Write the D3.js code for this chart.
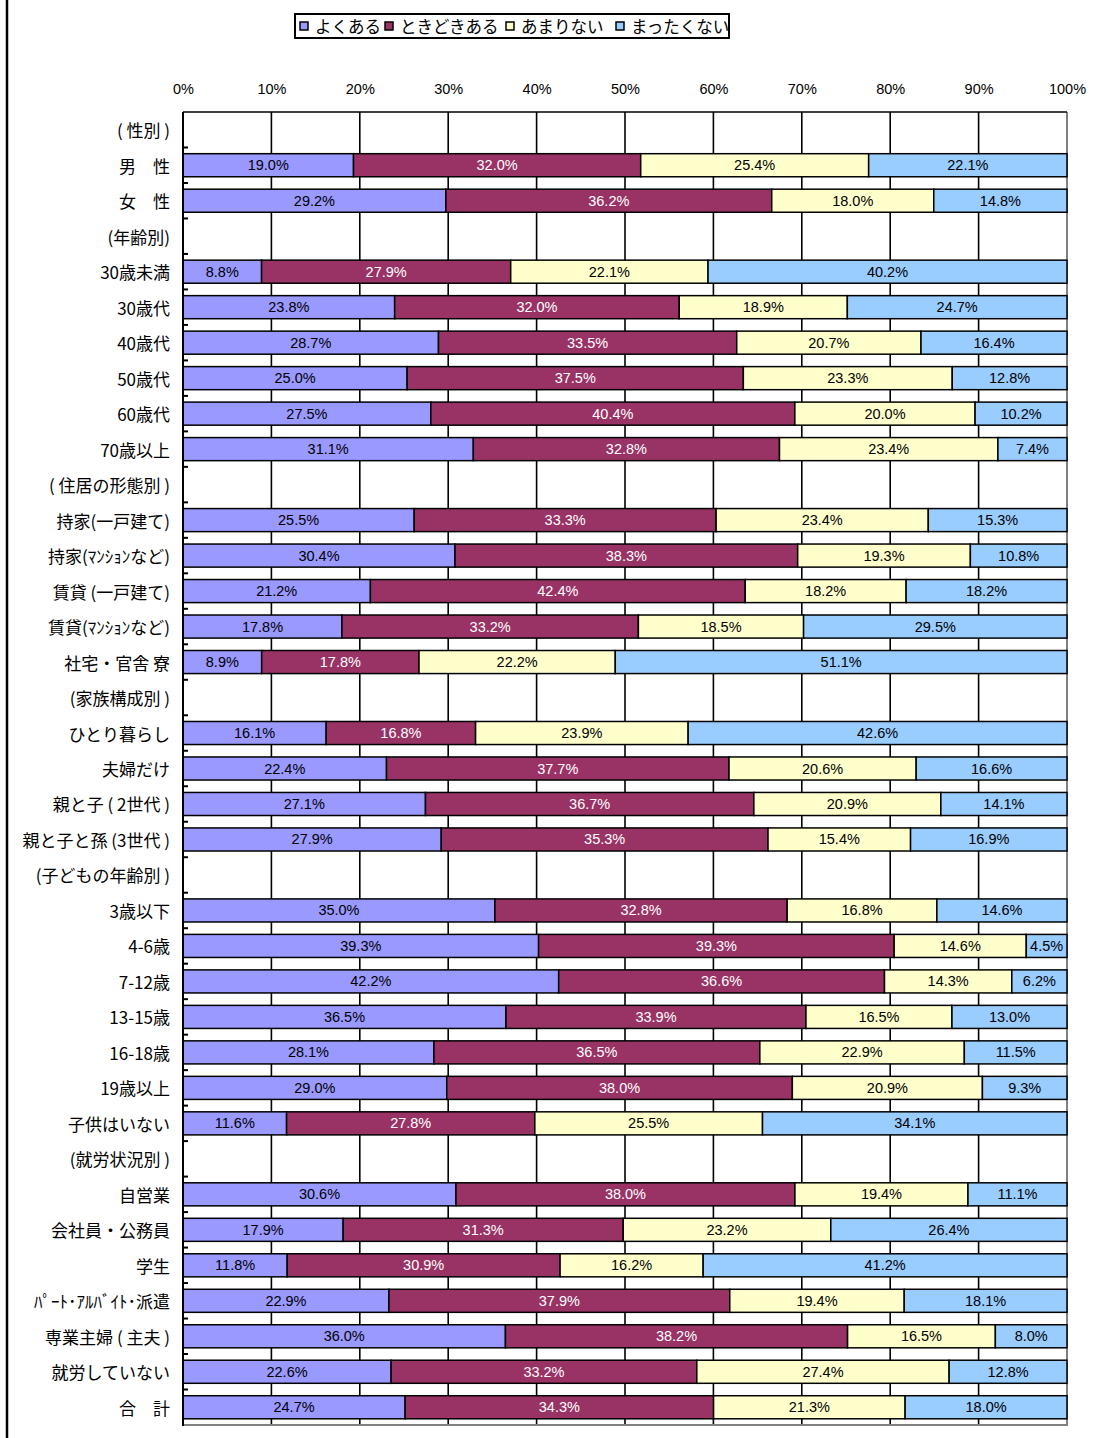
<!DOCTYPE html>
<html>
<head>
<meta charset="utf-8">
<script src="https://cdn.jsdelivr.net/npm/d3@7"></script>
<style>
  html, body { margin: 0; padding: 0; background: #fff; }
  svg { display: block; }
</style>
</head>
<body>
<svg id="chart" width="1111" height="1438"></svg>
<script>
// Row labels (group headers have no data)
const categories = [
  "( 性別 )", "男　性", "女　性",
  "(年齢別)", "30歳未満", "30歳代", "40歳代", "50歳代", "60歳代", "70歳以上",
  "( 住居の形態別 )", "持家(一戸建て)", "持家(ﾏﾝｼｮﾝなど)", "賃貸 (一戸建て)", "賃貸(ﾏﾝｼｮﾝなど)", "社宅・官舎 寮",
  "(家族構成別 )", "ひとり暮らし", "夫婦だけ", "親と子 ( 2世代 )", "親と子と孫 (3世代 )",
  "(子どもの年齢別 )", "3歳以下", "4-6歳", "7-12歳", "13-15歳", "16-18歳", "19歳以上", "子供はいない",
  "(就労状況別 )", "自営業", "会社員・公務員", "学生", "ﾊﾟｰﾄ･ｱﾙﾊﾞｲﾄ･派遣", "専業主婦 ( 主夫 )", "就労していない",
  "合　計"
];

const seriesNames = ["よくある", "ときどきある", "あまりない", "まったくない"];

// Percentages per row; null for header rows
const often = [
  null, 19.0, 29.2,
  null, 8.8, 23.8, 28.7, 25.0, 27.5, 31.1,
  null, 25.5, 30.4, 21.2, 17.8, 8.9,
  null, 16.1, 22.4, 27.1, 27.9,
  null, 35.0, 39.3, 42.2, 36.5, 28.1, 29.0, 11.6,
  null, 30.6, 17.9, 11.8, 22.9, 36.0, 22.6,
  24.7
];
const sometimes = [
  null, 32.0, 36.2,
  null, 27.9, 32.0, 33.5, 37.5, 40.4, 32.8,
  null, 33.3, 38.3, 42.4, 33.2, 17.8,
  null, 16.8, 37.7, 36.7, 35.3,
  null, 32.8, 39.3, 36.6, 33.9, 36.5, 38.0, 27.8,
  null, 38.0, 31.3, 30.9, 37.9, 38.2, 33.2,
  34.3
];
const rarely = [
  null, 25.4, 18.0,
  null, 22.1, 18.9, 20.7, 23.3, 20.0, 23.4,
  null, 23.4, 19.3, 18.2, 18.5, 22.2,
  null, 23.9, 20.6, 20.9, 15.4,
  null, 16.8, 14.6, 14.3, 16.5, 22.9, 20.9, 25.5,
  null, 19.4, 23.2, 16.2, 19.4, 16.5, 27.4,
  21.3
];
const never = [
  null, 22.1, 14.8,
  null, 40.2, 24.7, 16.4, 12.8, 10.2, 7.4,
  null, 15.3, 10.8, 18.2, 29.5, 51.1,
  null, 42.6, 16.6, 14.1, 16.9,
  null, 14.6, 4.5, 6.2, 13.0, 11.5, 9.3, 34.1,
  null, 11.1, 26.4, 41.2, 18.1, 8.0, 12.8,
  18.0
];

const tickValues = [0, 0.1, 0.2, 0.3, 0.4, 0.5, 0.6, 0.7, 0.8, 0.9, 1.0];

const colors = ["#9999FF", "#993366", "#FFFFCC", "#99CCFF"];
const labelColors = ["#000", "#fff", "#000", "#000"];

const keys = ["often", "sometimes", "rarely", "never"];
const rows = categories.map((c, i) => ({
  cat: c,
  often: often[i], sometimes: sometimes[i], rarely: rarely[i], never: never[i]
}));
const dataRows = rows.filter(r => r.often !== null);

const svg = d3.select("#chart");
const W = 1111, H = 1438;
const plot = { left: 183, right: 1067, top: 112, bottom: 1425 };

const x = d3.scaleLinear().domain([0, 1]).range([plot.left, plot.right]);
const rowBand = d3.scaleBand().domain(categories).range([plot.top, plot.bottom]).padding(0);
const barBand = d3.scaleBand().domain(categories).range([plot.top, plot.bottom])
  .paddingInner(0.35).paddingOuter(0.175);

// outer frame line on the left
svg.append("line")
  .attr("x1", 7).attr("x2", 7).attr("y1", 0).attr("y2", H)
  .attr("stroke", "#000").attr("stroke-width", 2.5);

// vertical gridlines
svg.append("g").selectAll("line")
  .data(tickValues.slice(1, -1))
  .join("line")
  .attr("x1", d => x(d)).attr("x2", d => x(d))
  .attr("y1", plot.top).attr("y2", plot.bottom)
  .attr("stroke", "#000").attr("stroke-width", 1.6);

// plot area border: grey right/bottom, black top
svg.append("line")
  .attr("x1", x(1)).attr("x2", x(1)).attr("y1", plot.top).attr("y2", plot.bottom + 1)
  .attr("stroke", "#808080").attr("stroke-width", 2);
svg.append("line")
  .attr("x1", plot.left).attr("x2", x(1) + 1).attr("y1", plot.bottom).attr("y2", plot.bottom)
  .attr("stroke", "#808080").attr("stroke-width", 2);
svg.append("line")
  .attr("x1", plot.left).attr("x2", x(1)).attr("y1", plot.top).attr("y2", plot.top)
  .attr("stroke", "#000").attr("stroke-width", 1.6);

// stacked, normalised bars
const stack = d3.stack().keys(keys).offset(d3.stackOffsetExpand);
const stacked = stack(dataRows);

const layers = svg.append("g").selectAll("g")
  .data(stacked)
  .join("g")
  .attr("fill", (d, i) => colors[i]);

layers.selectAll("rect")
  .data(d => d)
  .join("rect")
  .attr("x", d => x(d[0]))
  .attr("y", d => barBand(d.data.cat))
  .attr("width", d => x(d[1]) - x(d[0]))
  .attr("height", barBand.bandwidth())
  .attr("stroke", "#000")
  .attr("stroke-width", 1.5);

// value labels
svg.append("g").selectAll("g")
  .data(stacked)
  .join("g")
  .attr("fill", (d, i) => labelColors[i])
  .selectAll("text")
  .data(d => d.map(s => ({ s, key: d.key })))
  .join("text")
  .attr("x", d => (x(d.s[0]) + x(d.s[1])) / 2)
  .attr("y", d => barBand(d.s.data.cat) + barBand.bandwidth() / 2)
  .attr("text-anchor", "middle")
  .attr("dominant-baseline", "central")
  .attr("font-family", "'Liberation Sans', Arial, sans-serif")
  .attr("font-size", 14.5)
  .text(d => d.s.data[d.key].toFixed(1) + "%");

// left axis
svg.append("line")
  .attr("x1", plot.left).attr("x2", plot.left).attr("y1", plot.top).attr("y2", plot.bottom + 1)
  .attr("stroke", "#000").attr("stroke-width", 2);
svg.append("g").selectAll("line")
  .data(categories.slice(1))
  .join("line")
  .attr("x1", plot.left).attr("x2", plot.left + 5)
  .attr("y1", d => rowBand(d)).attr("y2", d => rowBand(d))
  .attr("stroke", "#000").attr("stroke-width", 2);

// category labels
svg.append("g").selectAll("text")
  .data(categories)
  .join("text")
  .attr("x", 170)
  .attr("y", d => rowBand(d) + rowBand.bandwidth() / 2)
  .attr("text-anchor", "end")
  .attr("dominant-baseline", "central")
  .attr("font-family", "'Noto Sans CJK JP', sans-serif")
  .attr("font-size", 17)
  .attr("fill", "#000")
  .text(d => d);

// top percentage axis
const xAxis = d3.axisTop(x).tickValues(tickValues)
  .tickFormat(d3.format(".0%")).tickSize(0).tickPadding(0);
const ax = svg.append("g").attr("transform", `translate(0, 94)`).call(xAxis);
ax.select(".domain").remove();
ax.selectAll("text")
  .attr("font-family", "'Liberation Sans', Arial, sans-serif")
  .attr("font-size", 14.5)
  .attr("fill", "#000");

// legend
const legend = svg.append("g");
legend.append("rect")
  .attr("x", 295).attr("y", 14).attr("width", 434).attr("height", 24)
  .attr("fill", "#fff").attr("stroke", "#000").attr("stroke-width", 2);
const legendX = [300, 385, 506, 616];
const items = legend.selectAll("g.item")
  .data(seriesNames)
  .join("g")
  .attr("class", "item")
  .attr("transform", (d, i) => `translate(${legendX[i]}, 26)`);
items.append("rect")
  .attr("x", 0).attr("y", -4).attr("width", 8).attr("height", 8)
  .attr("fill", (d, i) => colors[i]).attr("stroke", "#000").attr("stroke-width", 1.5);
items.append("text")
  .attr("x", 15).attr("y", 0)
  .attr("dominant-baseline", "central")
  .attr("font-family", "'Noto Sans CJK JP', sans-serif")
  .attr("font-size", 16.5)
  .attr("fill", "#000")
  .text(d => d);
</script>
</body>
</html>
